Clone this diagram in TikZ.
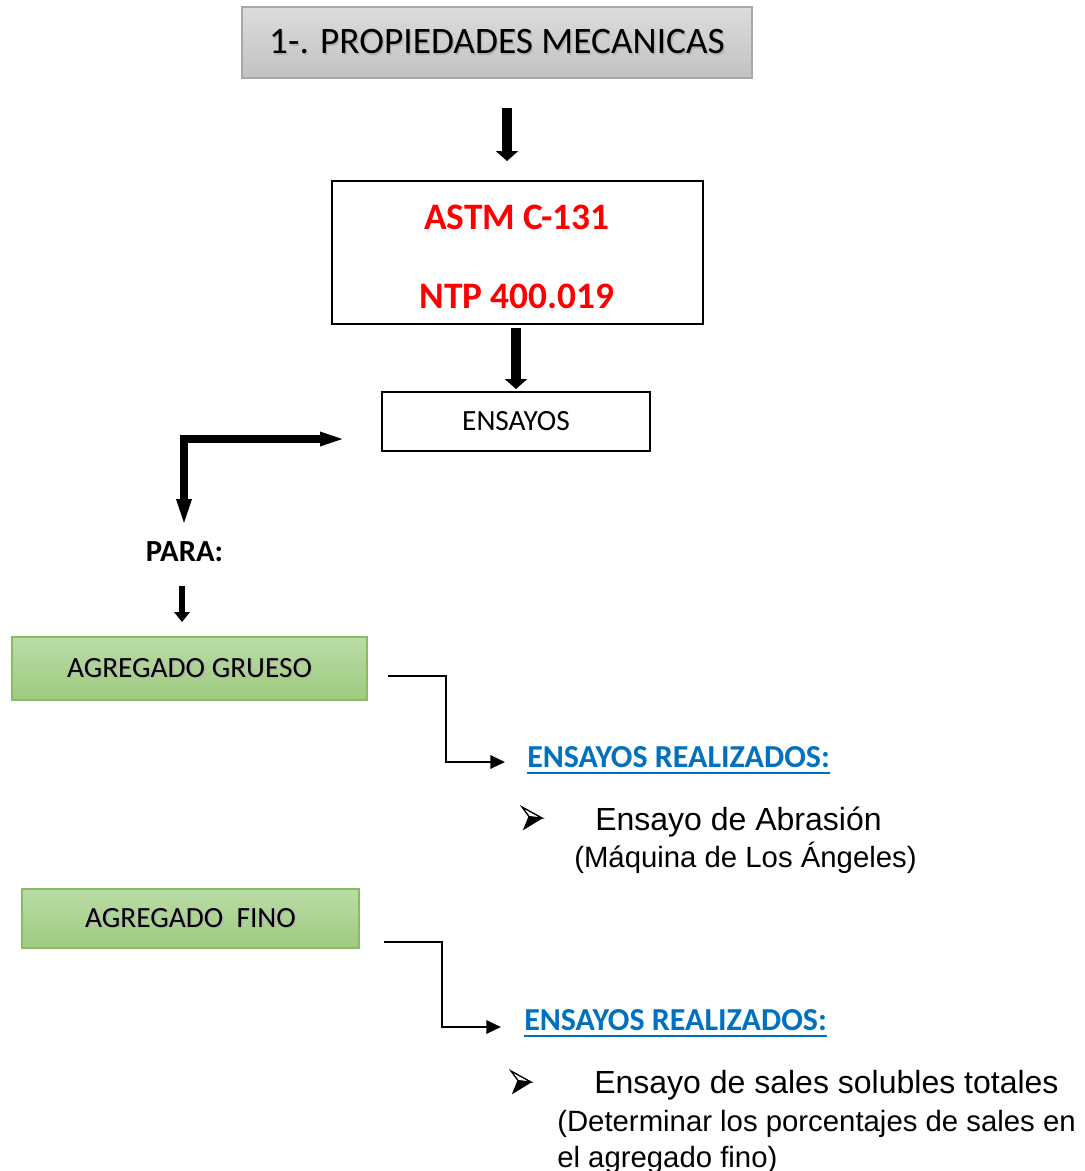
\documentclass[tikz,border=0pt]{standalone}
\usepackage{fontspec}
\setmainfont{Carlito}
\newfontfamily\arialf{Liberation Sans}
\usetikzlibrary{arrows.meta}
\definecolor{titletop}{HTML}{DCDCDC}
\definecolor{titlebot}{HTML}{C2C2C2}
\definecolor{titleline}{HTML}{A8A8A8}
\definecolor{greentop}{HTML}{BADCA6}
\definecolor{greenbot}{HTML}{9DCA7F}
\definecolor{greenline}{HTML}{86BD62}
\definecolor{redtxt}{HTML}{FF0000}
\definecolor{bluetxt}{HTML}{0070C0}
\newcommand{\shadowtxt}[1]{\makebox[0pt][l]{\kern1pt\raisebox{-1pt}{\textcolor{black!30}{#1}}}#1}
\tikzset{
  titlebox/.style={draw=titleline, line width=0.9pt, top color=titletop, bottom color=titlebot,
    minimum width=382.5pt, minimum height=53.25pt, inner sep=0pt,
    font=\fontsize{28}{33}\selectfont},
  normbox/.style={draw=black, line width=1.5pt, fill=white, inner sep=0pt},
  greenbox/.style={draw=greenline, line width=0.9pt, top color=greentop, bottom color=greenbot,
    inner sep=0pt, font=\fontsize{22}{26}\selectfont},
  redlabel/.style={text=redtxt, inner sep=0pt, anchor=base, font=\fontsize{28}{33}\selectfont\bfseries},
  bluelabel/.style={text=bluetxt, inner sep=0pt, anchor=base west, font=\fontsize{24}{29}\selectfont\bfseries},
  bigtxt/.style={inner sep=0pt, anchor=base west, font=\arialf\fontsize{24}{29}\selectfont},
  subtxt/.style={inner sep=0pt, anchor=base west, font=\arialf\fontsize{22}{27}\selectfont},
  fatarrow/.style={line width=7.5pt, -{Triangle[width=16.5pt,length=7.5pt]}},
  smallfat/.style={line width=4.5pt, -{Triangle[width=11.5pt,length=7.5pt]}},
  bentarrow/.style={line width=6pt, {Triangle[width=9pt,length=21pt]}-{Triangle[width=10pt,length=21pt]}},
  thinarrow/.style={line width=1.6pt, -{Triangle[width=10pt,length=11pt]}},
  underl/.style={draw=bluetxt, line width=1.5pt},
  bulletpic/.pic={
    \draw[line width=0.8pt, line join=miter, fill=white] (-10,-11) -- (10,0) -- (-3,-1.5) -- cycle;
    \fill[black] (-3,-1.5) -- (10,0) -- (-8,11) -- cycle;
    \draw[line width=0.8pt, line join=miter] (-10,-11) -- (10,0) -- (-8,11) -- (-3,-1.5) -- cycle;
  }
}
\begin{document}
\begin{tikzpicture}[x=0.75pt,y=-0.75pt]
\useasboundingbox (0,0) rectangle (1085,1171);

% title
\node[titlebox] (title) at (497,42.5) {\shadowtxt{1-. PROPIEDADES MECANICAS}};

% ASTM box
\node[normbox, minimum width=278.25pt, minimum height=107.25pt] (astm) at (517.5,252.5) {};
\node[redlabel] (astmA) at (517,229) {ASTM C-131};
\node[redlabel] (astmB) at (517,308) {NTP 400.019};

% ENSAYOS box
\node[normbox, minimum width=201pt, minimum height=44.25pt, font=\fontsize{22}{26}\selectfont] (ens) at (516,421.5) {ENSAYOS};

% arrows
\coordinate (a1s) at (507,108);
\coordinate (a1e) at (507,161);
\draw[fatarrow] (a1s) -- (a1e);
\coordinate (a2s) at (516,328);
\coordinate (a2e) at (516,389);
\draw[fatarrow] (a2s) -- (a2e);

% bent arrow
\coordinate (bh) at (348,439);
\coordinate (bv) at (184,527);
\draw[bentarrow] (bh) -| (bv);

% PARA
\node[inner sep=0pt, anchor=base, font=\fontsize{23}{28}\selectfont\bfseries] (para) at (184.5,561) {PARA:};
\coordinate (a3s) at (182,586);
\coordinate (a3e) at (182,622);
\draw[smallfat] (a3s) -- (a3e);

% green boxes
\node[greenbox, minimum width=266.25pt, minimum height=47.25pt] (grueso) at (189.5,668.5) {\shadowtxt{AGREGADO GRUESO}};
\node[greenbox, minimum width=252.75pt, minimum height=44.25pt] (fino) at (190.5,918.5) {\shadowtxt{AGREGADO\ \ FINO}};

% elbow connectors
\coordinate (e1s) at (388,676);
\coordinate (e1t) at (505,762);
\draw[thinarrow] (e1s) -- ++(58,0) |- (e1t);
\coordinate (e2s) at (384,942);
\coordinate (e2t) at (501,1027);
\draw[thinarrow] (e2s) -- ++(58,0) |- (e2t);

% first results
\node[bluelabel] (rea1) at (527,767) {ENSAYOS REALIZADOS:};
\draw[underl] ([yshift=-4.5pt]rea1.base west) -- ([yshift=-4.5pt]rea1.base east);
\pic at (532,818) {bulletpic};
\node[bigtxt] (t1) at (595,830) {Ensayo de Abrasión};
\node[subtxt] (t1b) at (574,867) {(Máquina de Los Ángeles)};

% second results
\node[bluelabel] (rea2) at (524,1030) {ENSAYOS REALIZADOS:};
\draw[underl] ([yshift=-4.5pt]rea2.base west) -- ([yshift=-4.5pt]rea2.base east);
\pic at (521,1082) {bulletpic};
\node[bigtxt] (t2) at (594,1093) {Ensayo de sales solubles totales};
\node[subtxt] (t2b) at (557,1131) {(Determinar los porcentajes de sales en};
\node[subtxt] (t2c) at (557,1167) {el agregado fino)};
\end{tikzpicture}
\end{document}
